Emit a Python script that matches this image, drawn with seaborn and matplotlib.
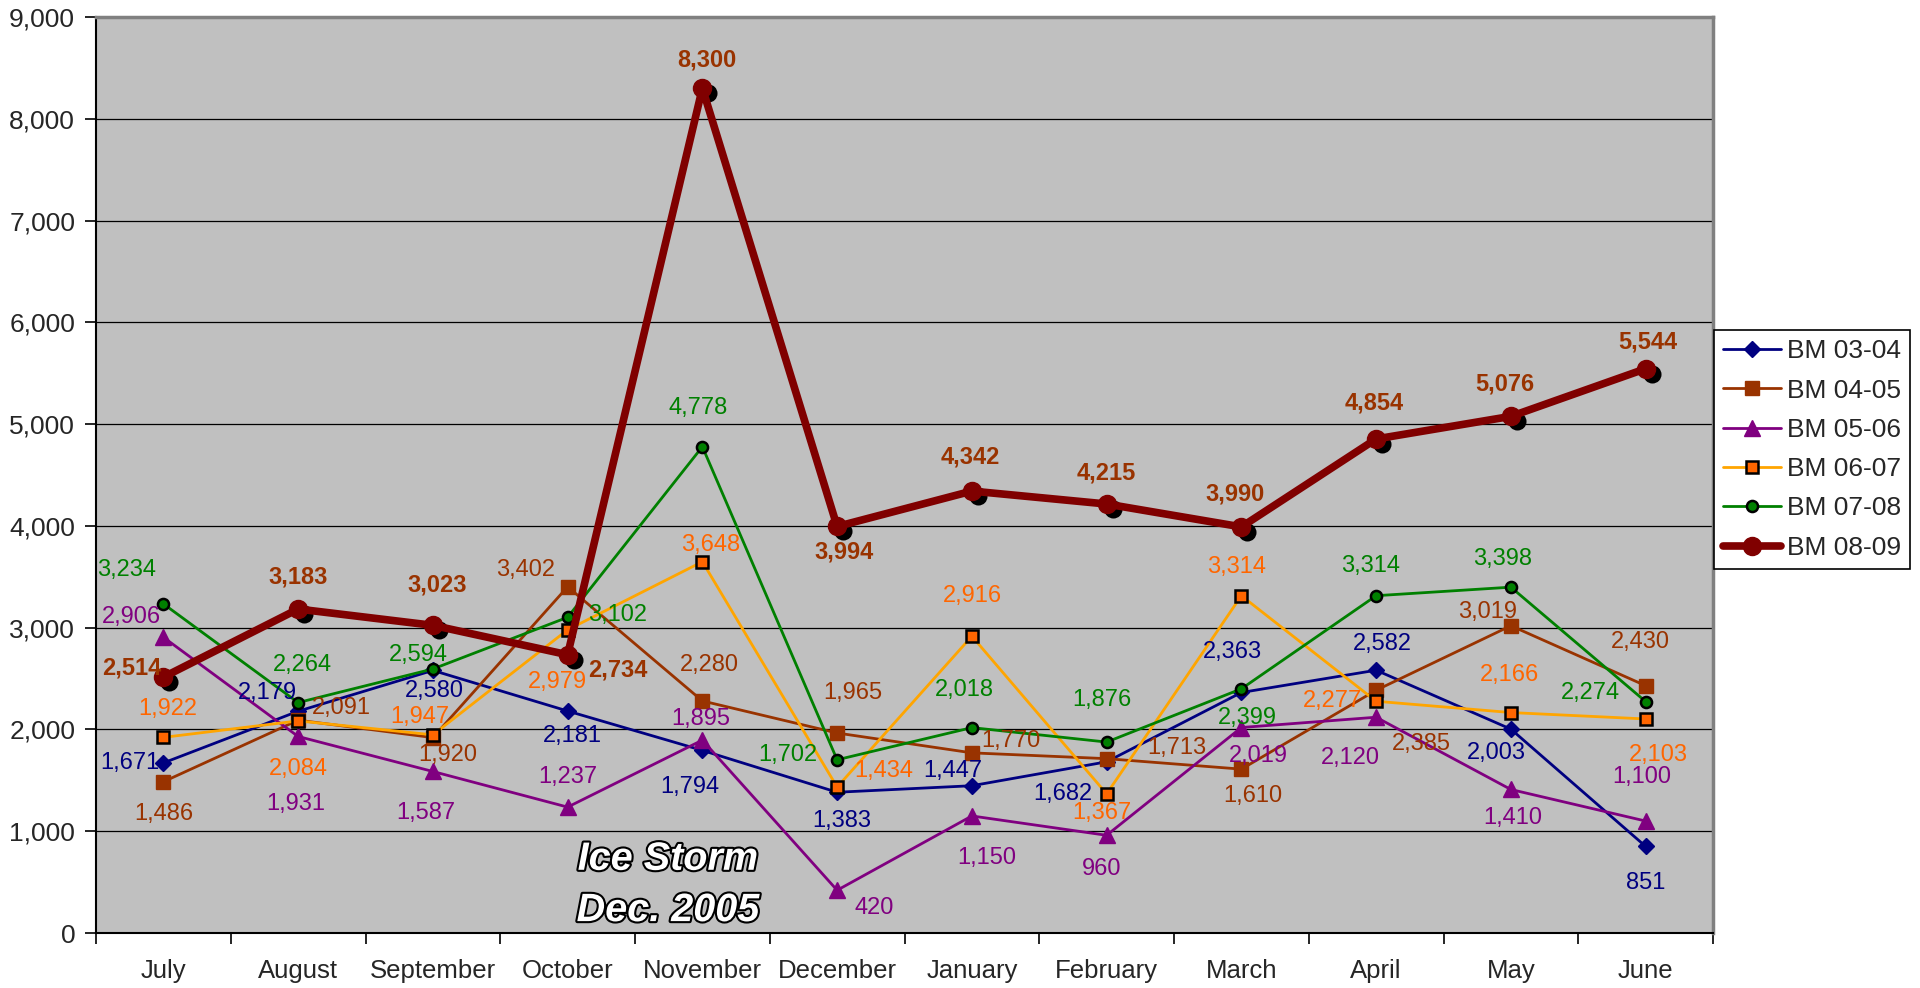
import matplotlib
matplotlib.use('Agg')
import numpy as np
import pandas as pd
import seaborn as sns
import matplotlib.pyplot as plt
import matplotlib.patheffects as pe
from matplotlib.transforms import offset_copy
from matplotlib.ticker import FuncFormatter

months = ['July', 'August', 'September', 'October', 'November', 'December',
          'January', 'February', 'March', 'April', 'May', 'June']

bm_0304 = [1671, 2179, 2580, 2181, 1794, 1383, 1447, 1682, 2363, 2582, 2003, 851]
bm_0405 = [1486, 2091, 1920, 3402, 2280, 1965, 1770, 1713, 1610, 2385, 3019, 2430]
bm_0506 = [2906, 1931, 1587, 1237, 1895, 420, 1150, 960, 2019, 2120, 1410, 1100]
bm_0607 = [1922, 2084, 1947, 2979, 3648, 1434, 2916, 1367, 3314, 2277, 2166, 2103]
bm_0708 = [3234, 2264, 2594, 3102, 4778, 1702, 2018, 1876, 2399, 3314, 3398, 2274]
bm_0809 = [2514, 3183, 3023, 2734, 8300, 3994, 4342, 4215, 3990, 4854, 5076, 5544]

series_names = ['BM 03-04', 'BM 04-05', 'BM 05-06', 'BM 06-07', 'BM 07-08', 'BM 08-09']
series_values = [bm_0304, bm_0405, bm_0506, bm_0607, bm_0708, bm_0809]

# label offsets in pixels (dx right, dy down) - placed by hand like the original
label_offsets = {
    'BM 03-04': [(-34, 0), (-31, -18), (2, 21), (5, 25), (-13, 37), (5, 29),
                 (-19, -15), (-44, 32), (-9, -40), (6, -26), (-15, 24), (0, 37)],
    'BM 04-05': [(0, 32), (43, -12), (15, 17), (-42, -17), (7, -36), (16, -40),
                 (39, -12), (70, -11), (11, 27), (45, 54), (-23, -14), (-5, -44)],
    'BM 05-06': [(-32, -20), (-2, 68), (-7, 42), (0, -30), (-2, -21), (37, 18),
                 (15, 42), (-5, 34), (17, 28), (-26, 41), (2, 29), (-4, -44)],
    'BM 06-07': [(4, -28), (0, 48), (-13, -18), (-10, 52), (8, -17), (47, -16),
                 (1, -40), (-5, 19), (-5, -29), (-44, 0), (-1, -38), (13, 36)],
    'BM 07-08': [(-37, -34), (4, -38), (-14, -14), (50, -2), (-4, -39), (-49, -5),
                 (-8, -38), (-5, -42), (6, 29), (-6, -30), (-8, -28), (-55, -9)],
    'BM 08-09': [(-32, -9), (0, -32), (4, -40), (50, 15), (4, -28), (7, 26),
                 (-2, -34), (0, -31), (-6, -33), (-2, -36), (-6, -32), (2, -27)],
}

styles = {
    'BM 03-04': dict(color='#000080', lw=2, marker='D', ms=8, mfc='#000080', mec='#000080', mew=1),
    'BM 04-05': dict(color='#993300', lw=2, marker='s', ms=10, mfc='#993300', mec='#993300', mew=1),
    'BM 05-06': dict(color='#800080', lw=2, marker='^', ms=11, mfc='#800080', mec='#800080', mew=1),
    'BM 06-07': dict(color='#FFA500', lw=2, marker='s', ms=8, mfc='#FF6600', mec='black', mew=1.8),
    'BM 07-08': dict(color='#008000', lw=2, marker='o', ms=8, mfc='#008000', mec='black', mew=1.8),
    'BM 08-09': dict(color='#800000', lw=5.5, marker='o', ms=13, mfc='#800000', mec='#800000', mew=1),
}
label_colors = {'BM 03-04': '#000080', 'BM 04-05': '#993300', 'BM 05-06': '#800080',
                'BM 06-07': '#FF6600', 'BM 07-08': '#008000', 'BM 08-09': '#993300'}

sns.set_style('ticks')
plt.rcParams['font.family'] = ['Liberation Sans', 'DejaVu Sans']

fig = plt.figure(figsize=(19.2, 9.88), dpi=100)
ax = fig.add_axes([96 / 1920, 55 / 988, 1617 / 1920, 916 / 988])
ax.set_facecolor('#C0C0C0')

for k, (name, vals) in enumerate(zip(series_names, series_values)):
    st = styles[name]
    if name == 'BM 08-09':
        # black drop shadow under the markers
        shadow = offset_copy(ax.transData, fig=fig, x=6, y=-5, units='dots')
        sns.scatterplot(x=months, y=vals, ax=ax, color='black', s=st['ms'] ** 2,
                        linewidth=0, transform=shadow, legend=False, zorder=3)
    sns.lineplot(x=months, y=vals, ax=ax, sort=False, label=name,
                 zorder=2 + k * 0.1 + (2 if name == 'BM 08-09' else 0), **st)

for name, vals in zip(series_names, series_values):
    bold = name == 'BM 08-09'
    for i, v in enumerate(vals):
        dx, dy = label_offsets[name][i]
        ax.annotate(f'{v:,}', xy=(months[i], v), xytext=(dx, -dy), textcoords='offset pixels',
                    ha='center', va='center', fontsize=17, color=label_colors[name],
                    fontweight='bold' if bold else 'normal', zorder=10)

ax.set_xlim(-0.5, 11.5)
ax.set_ylim(0, 9000)
ax.set_yticks(np.arange(0, 9001, 1000))
ax.yaxis.set_major_formatter(FuncFormatter(lambda y, p: f'{int(y):,}'))
ax.set_xticks(np.arange(-0.5, 12, 1), minor=True)
ax.tick_params(axis='x', which='major', length=0, pad=19, labelsize=18.5)
ax.tick_params(axis='x', which='minor', length=8, width=1.2, color='black', direction='out')
ax.tick_params(axis='y', which='major', length=8, width=1.2, color='black', pad=7, labelsize=19)
ax.set_xlabel('')
ax.set_ylabel('')
ax.yaxis.grid(True, color='black', lw=0.9)
ax.xaxis.grid(False)
ax.set_axisbelow(True)

for side in ['left', 'bottom']:
    ax.spines[side].set_color('black')
    ax.spines[side].set_linewidth(1.5)
for side in ['top', 'right']:
    ax.spines[side].set_visible(True)
    ax.spines[side].set_color('#808080')
    ax.spines[side].set_linewidth(2.5)

for txt, yy in [('Ice Storm', 0.081), ('Dec. 2005', 0.025)]:
    ax.text(0.3537, yy, txt, transform=ax.transAxes, ha='center', va='center',
            fontsize=28.5, fontweight='bold', fontstyle='italic', color='white', zorder=11,
            path_effects=[pe.withStroke(linewidth=3, foreground='black')])

handles, labels = ax.get_legend_handles_labels()
leg = ax.legend(handles, labels, loc='upper left', bbox_to_anchor=(1714 / 1920, 1 - 330 / 988),
                bbox_transform=fig.transFigure, frameon=True, fancybox=False, edgecolor='black',
                framealpha=1, fontsize=19, handlelength=2.2, labelspacing=0.58, borderpad=0.35,
                handletextpad=0.2, borderaxespad=0)
leg.get_frame().set_linewidth(1.2)

fig.savefig('out.png', dpi=100, facecolor='white')
